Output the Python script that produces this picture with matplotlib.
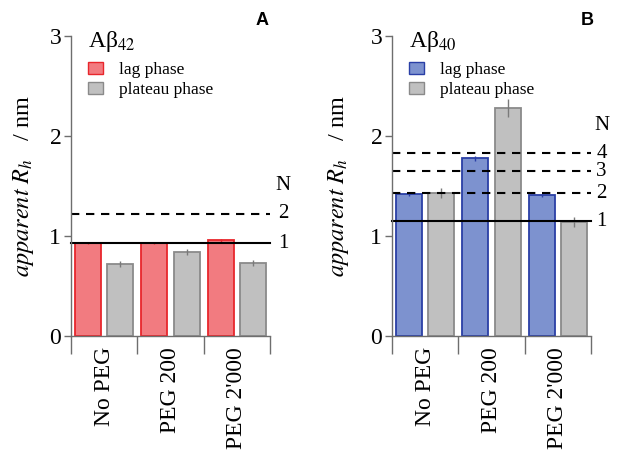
import matplotlib
matplotlib.use("Agg")
import matplotlib.pyplot as plt
from matplotlib.patches import Patch
import numpy as np

plt.rcParams['font.family'] = ['Liberation Serif', 'DejaVu Serif']
plt.rcParams['mathtext.fontset'] = 'stix'

groups = ["No PEG", "PEG 200", "PEG 2'000"]

# panel A: Abeta42
a_lag = [0.93, 0.93, 0.96]
a_lag_err = [0.01, 0.01, 0.015]
a_plat = [0.72, 0.84, 0.73]
a_plat_err = [0.03, 0.03, 0.03]
a_lines = [0.93, 1.22]          # N = 1, 2
a_N = ["1", "2"]

# panel B: Abeta40
b_lag = [1.42, 1.78, 1.41]
b_lag_err = [0.015, 0.025, 0.015]
b_plat = [1.43, 2.28, 1.14]
b_plat_err = [0.05, 0.09, 0.05]
b_lines = [1.15, 1.43, 1.65, 1.83]   # N = 1..4
b_N = ["1", "2", "3", "4"]

grey_face, grey_edge = '#c0c0c0', '#8a8a8a'
spine_c = '#6e6e6e'

fig = plt.figure(figsize=(6.23, 4.54), dpi=100)


def panel(rect, lag, lag_err, plat, plat_err, lines, nlab, face, edge,
          title, letter, letter_x, nx, ny, lpad):
    ax = fig.add_axes(rect)
    x = np.arange(len(groups))
    w = 0.39
    ax.bar(x - 0.245, lag, w, color=face, edgecolor=edge, linewidth=1.3)
    ax.errorbar(x - 0.245, lag, yerr=lag_err, fmt='none', ecolor=edge, elinewidth=1)
    ax.bar(x + 0.245, plat, w, color=grey_face, edgecolor=grey_edge, linewidth=1.3)
    ax.errorbar(x + 0.245, plat, yerr=plat_err, fmt='none', ecolor='#7a7a7a', elinewidth=1)

    for i, (v, n) in enumerate(zip(lines, nlab)):
        if i == 0:
            ax.plot([-0.5, 2.5], [v, v], color='black', lw=1.5, clip_on=False)
        else:
            ax.plot([-0.5, 2.5], [v, v], color='black', lw=1.5, ls=(0, (4, 3.2)), clip_on=False)
        ax.text(nx, v, n, fontsize=15, ha='center', va='center')
    ax.text(nx, ny, "N", fontsize=15, ha='center', va='center')

    ax.set_xlim(-0.5, 2.5)
    ax.set_ylim(0, 3)
    ax.set_yticks([0, 1, 2, 3])
    ax.tick_params(axis='y', labelsize=17, length=5, color=spine_c, width=1, pad=2)
    ax.set_xticks(x)
    ax.set_xticklabels(groups, rotation=90, fontsize=17)
    ax.tick_params(axis='x', which='major', length=0, pad=8)
    ax.set_xticks([-0.5, 0.5, 1.5, 2.5], minor=True)
    ax.tick_params(axis='x', which='minor', length=13, color=spine_c, width=1)
    for s in ['top', 'right']:
        ax.spines[s].set_visible(False)
    for s in ['left', 'bottom']:
        ax.spines[s].set_color(spine_c)
        ax.spines[s].set_linewidth(1)
    ax.set_ylabel(r'$apparent\ R_h$' + '   / nm', fontsize=17.5, labelpad=lpad)

    ax.text(0.085, 0.98, title, transform=ax.transAxes, fontsize=17, va='center')
    handles = [Patch(facecolor=face, edgecolor=edge, label='lag phase'),
               Patch(facecolor=grey_face, edgecolor=grey_edge, label='plateau phase')]
    ax.legend(handles=handles, loc='upper left', bbox_to_anchor=(0.07, 0.925),
              frameon=False, fontsize=12.5, handlelength=0.85, handleheight=0.65,
              handletextpad=0.9, labelspacing=0.25, borderpad=0.2, borderaxespad=0.0)
    fig.text(letter_x, 0.955, letter, fontsize=13, fontweight='bold',
             family='Liberation Sans', ha='center', va='center')
    return ax


panel([71 / 623, 118 / 454, 199 / 623, 300 / 454], a_lag, a_lag_err, a_plat, a_plat_err,
      a_lines, a_N, '#f27b80', '#e8262c', 'Aβ$_{42}$', 'A', 262 / 623, 2.70, 1.51, 10)
panel([392 / 623, 118 / 454, 199 / 623, 300 / 454], b_lag, b_lag_err, b_plat, b_plat_err,
      b_lines, b_N, '#7d92cf', '#2a3fa6', 'Aβ$_{40}$', 'B', 587 / 623, 2.66, 2.10, 14)

fig.savefig('out.png', dpi=100)
